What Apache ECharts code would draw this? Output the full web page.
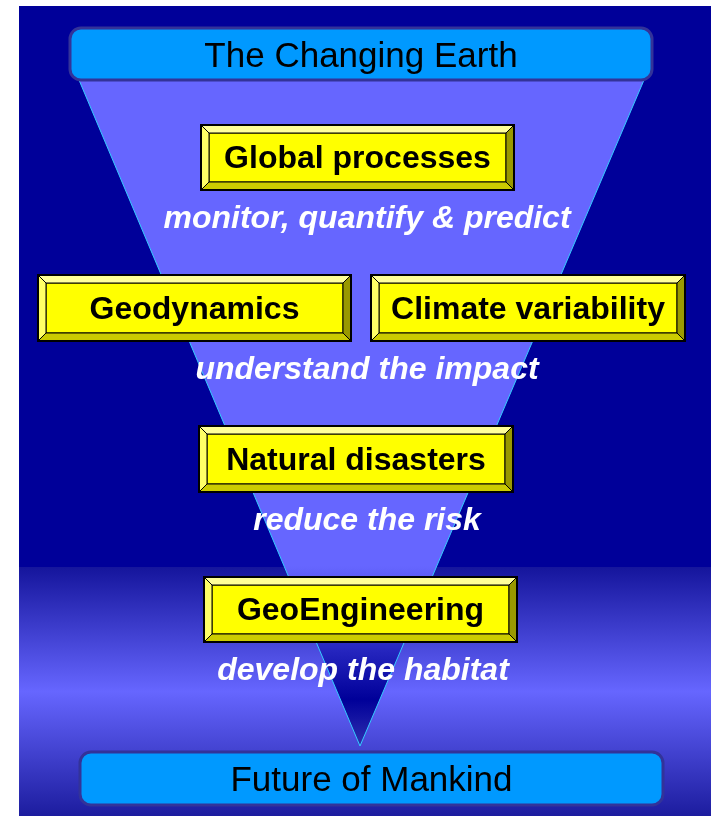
<!DOCTYPE html>
<html>
<head>
<meta charset="utf-8">
<script src="https://cdn.jsdelivr.net/npm/echarts@6/dist/echarts.min.js"></script>
<style>
  html, body { margin: 0; padding: 0; background: #fff; }
  #chart { width: 711px; height: 816px; }
</style>
</head>
<body>
<div id="chart"></div>
<script>
// diagram content
const topLabel = 'The Changing Earth'
const bottomLabel = 'Future of Mankind'
const stageRows = [
    ['Global processes'],
    ['Geodynamics', 'Climate variability'],
    ['Natural disasters'],
    ['GeoEngineering']
]
const actions = ['monitor, quantify & predict', 'understand the impact', 'reduce the risk', 'develop the habitat']

// layout (pixels)
const boxLayout = [
    [{ x: 201, y: 125, w: 313, h: 65 }],
    [{ x: 38, y: 275, w: 313, h: 66 }, { x: 371, y: 275, w: 314, h: 66 }],
    [{ x: 199, y: 426, w: 314, h: 66 }],
    [{ x: 204, y: 577, w: 313, h: 65 }]
]
const actionPos = [[367, 219], [367, 370], [367, 521], [363, 671]]
const FONT = '"Liberation Sans", Arial, sans-serif'

function bevelBox(b, label) {
    const x = b.x, y = b.y, w = b.w, h = b.h, d = 8
    const edge = { stroke: '#000', lineWidth: 1 }
    const poly = (pts, fill) => ({ type: 'polygon', shape: { points: pts }, style: Object.assign({ fill: fill }, edge) })
    return {
        type: 'group',
        children: [
            { type: 'rect', shape: { x: x + d, y: y + d, width: w - 2 * d, height: h - 2 * d }, style: Object.assign({ fill: '#ffff00' }, edge) },
            poly([[x, y], [x + w, y], [x + w - d, y + d], [x + d, y + d]], '#ffff99'),
            poly([[x, y], [x + d, y + d], [x + d, y + h - d], [x, y + h]], '#ffff66'),
            poly([[x + w, y], [x + w, y + h], [x + w - d, y + h - d], [x + w - d, y + d]], '#999900'),
            poly([[x, y + h], [x + d, y + h - d], [x + w - d, y + h - d], [x + w, y + h]], '#cccc00'),
            { type: 'rect', shape: { x: x, y: y, width: w, height: h }, style: { fill: 'none', stroke: '#000', lineWidth: 2 } },
            {
                type: 'text',
                style: { text: label, x: x + w / 2, y: y + h / 2 + 2, textAlign: 'center', textVerticalAlign: 'middle', fill: '#000', font: 'bold 32px ' + FONT }
            }
        ]
    }
}

function headBox(x, y, w, h, label) {
    return {
        type: 'group',
        children: [
            { type: 'rect', shape: { x: x, y: y, width: w, height: h, r: 11 }, style: { fill: '#0099ff', stroke: '#333399', lineWidth: 3 } },
            { type: 'text', style: { text: label, x: x + w / 2, y: y + h / 2 + 3, textAlign: 'center', textVerticalAlign: 'middle', fill: '#000', font: '35px ' + FONT } }
        ]
    }
}

let elements = []

// background panel
elements.push({ type: 'rect', shape: { x: 19, y: 6, width: 692, height: 562 }, style: { fill: '#000099' } })
elements.push({
    type: 'rect', shape: { x: 19, y: 567, width: 692, height: 249 },
    style: {
        fill: new echarts.graphic.LinearGradient(0, 0, 0, 1, [
            { offset: 0, color: '#15159c' },
            { offset: 0.5, color: '#6666ff' },
            { offset: 1, color: '#1c1c9e' }
        ])
    }
})

// funnel
elements.push({
    type: 'polygon',
    shape: { points: [[79, 80], [644, 80], [360, 746]] },
    style: {
        fill: { type: 'linear', x: 0, y: 80, x2: 0, y2: 746, global: true, colorStops: [
            { offset: 0, color: '#6666ff' },
            { offset: 0.73, color: '#6666ff' },
            { offset: 0.93, color: '#000099' },
            { offset: 1, color: '#3030b0' }
        ] },
        stroke: '#33ccff', lineWidth: 1
    }
})

elements.push(headBox(70, 28, 582, 52, topLabel))
elements.push(headBox(80, 752, 583, 53, bottomLabel))

stageRows.forEach((row, i) => {
    row.forEach((label, j) => elements.push(bevelBox(boxLayout[i][j], label)))
})

actions.forEach((txt, i) => {
    elements.push({
        type: 'text',
        style: { text: txt, x: actionPos[i][0], y: actionPos[i][1], textAlign: 'center', textVerticalAlign: 'middle', fill: '#fff', font: 'italic bold 32px ' + FONT }
    })
})

let chart = echarts.init(document.getElementById('chart'), null, { renderer: 'canvas' })
chart.setOption({
    animation: false,
    graphic: { elements: elements }
})
</script>
</body>
</html>
